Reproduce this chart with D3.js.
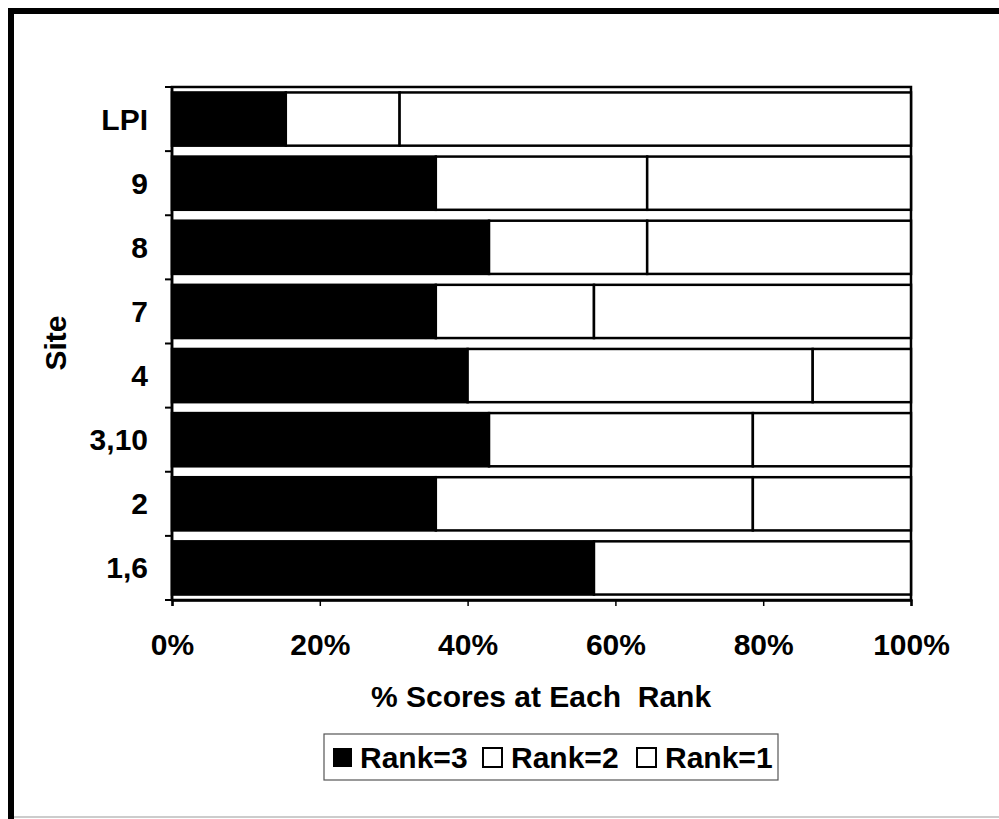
<!DOCTYPE html>
<html>
<head>
<meta charset="utf-8">
<script src="https://cdn.jsdelivr.net/npm/d3@7"></script>
<style>
  body { margin: 0; background: #fff; }
  svg { display: block; font-family: "Liberation Sans", Arial, sans-serif; font-weight: bold; }
</style>
</head>
<body>
<svg id="chart" width="999" height="819"></svg>
<script>
// sites, top to bottom
const sites = ["LPI", "9", "8", "7", "4", "3,10", "2", "1,6"];
// percent of scores at each rank
const rank3 = [15.4, 35.7, 42.9, 35.7, 40.0, 42.9, 35.7, 57.1];
const rank2 = [15.4, 28.6, 21.4, 21.4, 46.7, 35.7, 42.9, 0];
const rank1 = [69.2, 35.7, 35.7, 42.9, 13.3, 21.4, 21.4, 42.9];
const xTicks = [0, 20, 40, 60, 80, 100];
const seriesNames = ["Rank=3", "Rank=2", "Rank=1"];
const seriesFill = ["#000", "#fff", "#fff"];

const svg = d3.select("#chart");
const fontSize = 30;

// outer frame of the scanned figure
svg.append("line").attr("x1", 11).attr("y1", 8).attr("x2", 11).attr("y2", 819)
    .attr("stroke", "#000").attr("stroke-width", 6);
svg.append("line").attr("x1", 8).attr("y1", 11).attr("x2", 999).attr("y2", 11)
    .attr("stroke", "#000").attr("stroke-width", 6);
svg.append("line").attr("x1", 14).attr("y1", 817).attr("x2", 999).attr("y2", 817)
    .attr("stroke", "#ccc").attr("stroke-width", 2);

const plotLeft = 172, plotRight = 911, plotTop = 87, plotBottom = 600;

const x = d3.scaleLinear().domain([0, 100]).range([plotLeft, plotRight]);
const y = d3.scaleBand().domain(sites).range([plotTop, plotBottom])
    .paddingInner(0.17).paddingOuter(0.085);

let rows = sites.map((s, i) => ({site: s, "Rank=3": rank3[i], "Rank=2": rank2[i], "Rank=1": rank1[i]}));
let stacked = d3.stack().keys(seriesNames)(rows);

// plot frame
svg.append("rect")
    .attr("x", plotLeft).attr("y", plotTop)
    .attr("width", plotRight - plotLeft).attr("height", plotBottom - plotTop)
    .attr("fill", "none").attr("stroke", "#000").attr("stroke-width", 2.5);

stacked.forEach((layer, k) => {
    svg.append("g").selectAll("rect")
        .data(layer.filter(d => d[1] - d[0] > 0))
        .join("rect")
        .attr("x", d => x(d[0]))
        .attr("y", d => y(d.data.site))
        .attr("width", d => x(d[1]) - x(d[0]))
        .attr("height", y.bandwidth())
        .attr("fill", seriesFill[k])
        .attr("stroke", "#000")
        .attr("stroke-width", 2.5);
});

// y axis: ticks between bands
let yAxis = svg.append("g");
yAxis.append("line").attr("x1", plotLeft).attr("x2", plotLeft).attr("y1", plotTop).attr("y2", plotBottom)
    .attr("stroke", "#000").attr("stroke-width", 2.5);
let boundaries = sites.map(s => y(s) - y.step() * y.paddingInner() / 2);
boundaries[0] = plotTop;
boundaries.push(plotBottom);
yAxis.selectAll(".tick").data(boundaries).join("line")
    .attr("x1", plotLeft - 7).attr("x2", plotLeft).attr("y1", d => d).attr("y2", d => d)
    .attr("stroke", "#000").attr("stroke-width", 2);
yAxis.selectAll("text").data(sites).join("text")
    .attr("x", 148).attr("y", d => y(d) + y.bandwidth() / 2)
    .attr("dy", "0.35em").attr("text-anchor", "end")
    .attr("font-size", fontSize).text(d => d);

svg.append("text")
    .attr("transform", "translate(66,343) rotate(-90)")
    .attr("text-anchor", "middle").attr("font-size", fontSize).text("Site");

// x axis
let xAxis = svg.append("g").attr("transform", `translate(0,${plotBottom})`)
    .call(d3.axisBottom(x).tickValues(xTicks).tickSize(6).tickFormat(d => d + "%"));
xAxis.select(".domain").attr("stroke-width", 2.5);
xAxis.selectAll(".tick line").attr("stroke-width", 1.5);
xAxis.selectAll(".tick text").attr("font-size", fontSize).attr("fill", "#000")
    .attr("dy", 0).attr("y", 55);

svg.append("text")
    .attr("x", 541).attr("y", 707).attr("text-anchor", "middle")
    .attr("font-size", fontSize).style("white-space", "pre")
    .text("% Scores at Each  Rank");

// legend
let legend = svg.append("g");
legend.append("rect").attr("x", 324).attr("y", 734).attr("width", 454).attr("height", 46)
    .attr("fill", "none").attr("stroke", "#555").attr("stroke-width", 1.2);
const legendX = [333, 483, 637];
seriesNames.forEach((name, k) => {
    legend.append("rect").attr("x", legendX[k]).attr("y", 748)
        .attr("width", 19).attr("height", 19)
        .attr("fill", seriesFill[k]).attr("stroke", "#000").attr("stroke-width", k ? 2 : 0);
    legend.append("text").attr("x", legendX[k] + (k ? 28 : 27)).attr("y", 768)
        .attr("font-size", fontSize).text(name);
});
</script>
</body>
</html>
